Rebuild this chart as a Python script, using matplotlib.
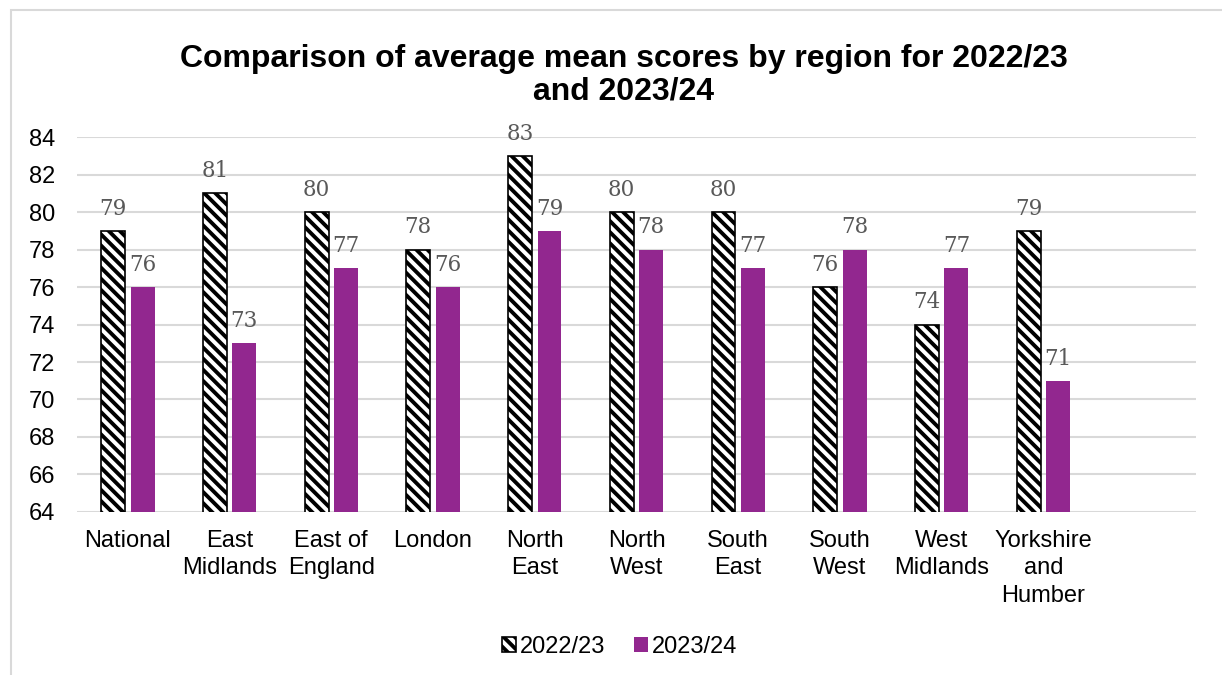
import matplotlib.pyplot as plt
import numpy as np
from matplotlib.patches import Rectangle

plt.rcParams['font.family'] = ['Liberation Sans', 'DejaVu Sans']
plt.rcParams['hatch.linewidth'] = 2.8
plt.rcParams['hatch.color'] = 'black'

# Average mean scores by region
regions = ['National', 'East\nMidlands', 'East of\nEngland', 'London', 'North\nEast',
           'North\nWest', 'South\nEast', 'South\nWest', 'West\nMidlands',
           'Yorkshire\nand\nHumber']
scores_2223 = [79, 81, 80, 78, 83, 80, 80, 76, 74, 79]
scores_2324 = [76, 73, 77, 76, 79, 78, 77, 78, 77, 71]
yticks = list(range(64, 85, 2))

purple = '#92278F'
grid_grey = '#d9d9d9'

fig = plt.figure(figsize=(12.22, 6.75), dpi=100)
ax = fig.add_axes([0.063, 0.2415, 0.9157, 0.5555])

x = np.arange(len(regions))
w = 0.235
off = 0.145

b1 = ax.bar(x - off, scores_2223, w, color='white', edgecolor='black',
            linewidth=1.2, hatch='\\\\\\', label='2022/23', zorder=3)
b2 = ax.bar(x + off, scores_2324, w, color=purple, edgecolor='none',
            label='2023/24', zorder=3)

for bars in (b1, b2):
    for rect in bars:
        h = rect.get_height()
        ax.annotate(f'{h:g}', (rect.get_x() + rect.get_width() / 2, h),
                    xytext=(0, 8), textcoords='offset points', ha='center', va='bottom',
                    fontsize=15.5, color='#595959', family='DejaVu Serif', zorder=4)

ax.set_ylim(64, 84)
ax.set_yticks(yticks)
ax.set_xlim(-0.5, len(regions) + 0.5)
ax.set_xticks(x)
ax.set_xticklabels(regions, fontsize=17, linespacing=1.32)
ax.tick_params(axis='y', labelsize=17, length=0, pad=16)
ax.tick_params(axis='x', length=0, pad=13)
ax.grid(axis='y', color=grid_grey, linewidth=1.5, zorder=0)
for s in ax.spines.values():
    s.set_visible(False)

fig.text(0.5106, 0.888, 'Comparison of average mean scores by region for 2022/23\nand 2023/24',
         ha='center', va='center', fontsize=23, fontweight='bold', linespacing=1.12)

leg = fig.legend(handles=[b1, b2], loc='center', bbox_to_anchor=(0.507, 0.042), ncol=2,
                 frameon=False, fontsize=17, handlelength=0.6, handleheight=0.6,
                 handletextpad=0.15, columnspacing=1.2)

# light grey chart border
fig.patches.append(Rectangle((11 / 1222, -0.05), 1.1, 1 - 10 / 675 + 0.05,
                             transform=fig.transFigure, fill=False,
                             edgecolor=grid_grey, linewidth=1.5))

fig.savefig('out.png', dpi=100)
